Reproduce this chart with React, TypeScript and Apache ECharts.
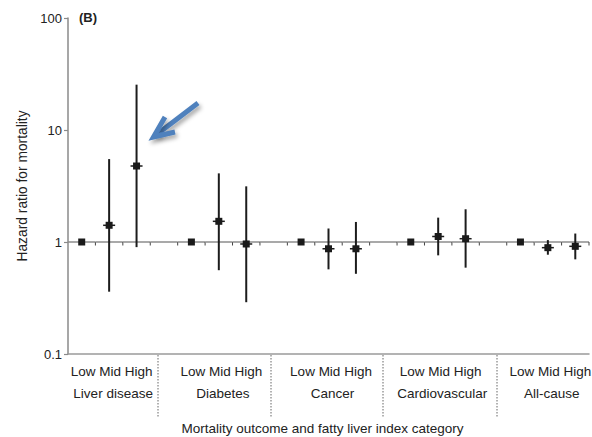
import React, { useEffect, useRef } from "react";
import * as echarts from "echarts";

// Outcomes and fatty liver index levels
const groups = ["Liver disease", "Diabetes", "Cancer", "Cardiovascular", "All-cause"];
const levels = ["Low", "Mid", "High"];

// Hazard ratios (Low is the reference category)
const hrEstimate = [
  [1, 1.41, 4.77],
  [1, 1.53, 0.96],
  [1, 0.87, 0.87],
  [1, 1.12, 1.07],
  [1, 0.89, 0.915],
];
// 95% confidence limits ('-' = reference, no interval)
const ciLower = [
  ["-", 0.36, 0.9],
  ["-", 0.56, 0.29],
  ["-", 0.57, 0.52],
  ["-", 0.76, 0.59],
  ["-", 0.77, 0.7],
];
const ciUpper = [
  ["-", 5.5, 25.4],
  ["-", 4.1, 3.14],
  ["-", 1.32, 1.51],
  ["-", 1.65, 1.96],
  ["-", 1.04, 1.19],
];
const yTicks = [0.1, 1, 10, 100];

const FONT = '"Liberation Sans", Arial, Helvetica, sans-serif';
const INK = "#222";

export default function App() {
  const ref = useRef<HTMLDivElement>(null);

  useEffect(() => {
    document.body.style.margin = "0";
    if (!ref.current) return;
    const chart = echarts.init(ref.current, null, { renderer: "svg" });

    // Slots along the x axis: Low, Mid, High and a spacer between outcomes
    const slots: string[] = [];
    groups.forEach((g, gi) => {
      levels.forEach((l) => slots.push(`${g}|${l}`));
      if (gi < groups.length - 1) slots.push(`${g}|gap`);
    });

    const points: any[] = [];
    groups.forEach((g, gi) => {
      levels.forEach((l, li) => {
        points.push([
          slots.indexOf(`${g}|${l}`),
          hrEstimate[gi][li],
          ciLower[gi][li],
          ciUpper[gi][li],
        ]);
      });
    });

    const refLine = slots.map((_, i) => [i, 1]);

    chart.setOption({
      animation: false,
      textStyle: { fontFamily: FONT },
      grid: { left: 68, right: 3, top: 18, bottom: 83, outerBoundsMode: "none" },
      xAxis: {
        type: "category",
        data: slots,
        boundaryGap: true,
        axisLine: { show: true, lineStyle: { color: "#9a9a9a", width: 1.5 } },
        axisTick: { show: false },
        axisLabel: {
          interval: 0,
          margin: 6,
          formatter: (v: string) => {
            const [g, l] = v.split("|");
            return l === "Mid" ? `{lv|${levels.join(" ")}}\n{grp|${g}}` : "";
          },
          rich: {
            lv: { fontSize: 13.5, lineHeight: 22, color: INK, fontFamily: FONT, padding: [0, 0, 0, 5] },
            grp: { fontSize: 13.5, lineHeight: 22, color: INK, fontFamily: FONT, padding: [0, 0, 0, 8] },
          },
        },
        name: "Mortality outcome and fatty liver index category",
        nameLocation: "middle",
        nameGap: 67,
        nameTextStyle: { fontSize: 13.5, color: INK, fontFamily: FONT, padding: [0, 12, 0, 0] },
      },
      yAxis: {
        type: "log",
        logBase: 10,
        min: yTicks[0],
        max: yTicks[yTicks.length - 1],
        axisLine: { show: true, lineStyle: { color: "#8a8a8a", width: 1.5 } },
        axisTick: { show: true, length: 4, lineStyle: { color: "#8a8a8a", width: 1.2 } },
        axisLabel: { fontSize: 13, color: INK, margin: 6, fontFamily: FONT, formatter: (v: number) => String(v) },
        splitLine: { show: false },
        minorTick: { show: false },
        name: "Hazard ratio for mortality",
        nameLocation: "middle",
        nameGap: 29,
        nameTextStyle: { fontSize: 13.8, color: INK, fontFamily: FONT },
      },
      series: [
        {
          // reference line at HR = 1 with slot ticks
          type: "custom",
          silent: true,
          data: refLine,
          encode: { x: 0, y: 1 },
          renderItem: (params: any, api: any) => {
            const c = api.coord([api.value(0), api.value(1)]);
            const band = params.coordSys.width / slots.length;
            const stroke = { stroke: "#8c8c8c", lineWidth: 1.5 };
            return {
              type: "group",
              children: [
                { type: "line", shape: { x1: c[0] - band / 2, y1: c[1], x2: c[0] + band / 2, y2: c[1] }, style: stroke },
                {
                  type: "line",
                  shape: { x1: c[0] + band / 2, y1: c[1], x2: c[0] + band / 2, y2: c[1] + 3.5 },
                  style: { stroke: "#444", lineWidth: 1 },
                },
              ],
            };
          },
          z: 1,
        },
        {
          // estimates with confidence intervals
          type: "custom",
          data: points,
          encode: { x: 0, y: 1 },
          renderItem: (params: any, api: any) => {
            const x = api.value(0);
            const p = api.coord([x, api.value(1)]);
            const lo = api.value(2);
            const hi = api.value(3);
            const children: any[] = [];
            if (!isNaN(lo) && !isNaN(hi)) {
              const a = api.coord([x, lo]);
              const b = api.coord([x, hi]);
              children.push({
                type: "line",
                shape: { x1: p[0], y1: a[1], x2: p[0], y2: b[1] },
                style: { stroke: "#1c1c1c", lineWidth: 2 },
              });
              children.push({
                type: "line",
                shape: { x1: p[0] - 6, y1: p[1], x2: p[0] + 6, y2: p[1] },
                style: { stroke: "#1c1c1c", lineWidth: 1.5 },
              });
            }
            children.push({
              type: "rect",
              shape: { x: p[0] - 3.5, y: p[1] - 3.5, width: 7, height: 7 },
              style: { fill: "#1a1a1a" },
            });
            return { type: "group", children };
          },
          z: 3,
        },
      ],
      graphic: [
        {
          type: "text",
          left: 79,
          top: 11,
          style: { text: "(B)", font: `bold 13px ${FONT}`, fill: INK },
        },
        ...[158, 271, 383, 497].map((x) => ({
          type: "line",
          shape: { x1: x, y1: 355, x2: x, y2: 417 },
          style: { stroke: "#666", lineWidth: 1, lineDash: [1.5, 1.5] },
          silent: true,
        })),
        {
          type: "group",
          children: [
            {
              type: "line",
              shape: { x1: 198, y1: 103, x2: 156, y2: 135 },
              style: {
                stroke: "#4f81bd",
                lineWidth: 5,
                shadowColor: "rgba(0,0,0,0.35)",
                shadowBlur: 4,
                shadowOffsetX: 2,
                shadowOffsetY: 3,
              },
            },
            {
              type: "polyline",
              shape: { points: [[165, 117], [153.5, 137], [175, 132]] },
              style: {
                stroke: "#4f81bd",
                lineWidth: 5,
                lineJoin: "miter",
                fill: "none",
                shadowColor: "rgba(0,0,0,0.35)",
                shadowBlur: 4,
                shadowOffsetX: 2,
                shadowOffsetY: 3,
              },
            },
          ],
        },
      ],
    });

    return () => chart.dispose();
  }, []);

  return <div ref={ref} style={{ width: 592, height: 437 }} />;
}
